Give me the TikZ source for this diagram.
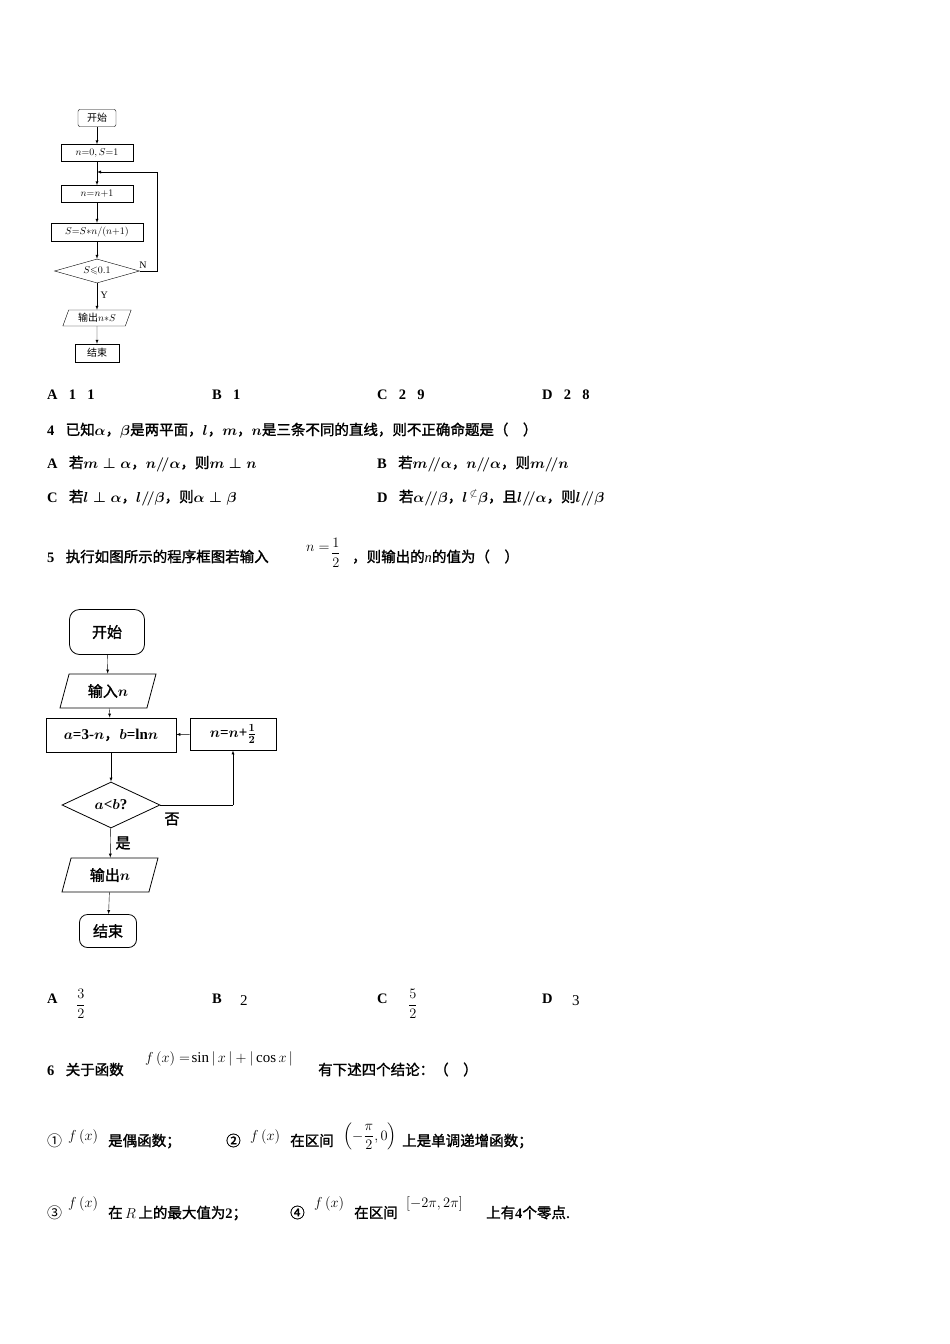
\documentclass[tikz,border=0pt]{standalone}
\usepackage{amsmath,amssymb}
\usepackage{fontspec}
\setmainfont{Liberation Serif}
\newfontfamily\zh{Noto Sans CJK SC}[AutoFakeBold=1.5]
\usetikzlibrary{shapes.geometric}
\usetikzlibrary{positioning}
\usetikzlibrary{calc}
\tikzset{
  small/.style={font=\fontsize{10}{11}\selectfont},
  big/.style={font=\fontsize{15}{17}\selectfont\bfseries},
  line/.style={font=\fontsize{14.5}{17}\selectfont\bfseries, anchor=base west, inner sep=0pt},
  plainmath/.style={font=\fontsize{15}{17}\selectfont, anchor=base west, inner sep=0pt}
}
\newcommand{\zb}[1]{{\zh\bfseries #1}}

\begin{document}
\begin{tikzpicture}[x=1pt, y=-1pt, >=latex]
\useasboundingbox[fill=white] (0,0) rectangle (950,1344);

% first flowchart
\begin{scope}[small, every node/.style={draw, inner sep=1pt}]
\node[rounded corners=2pt, minimum width=38, minimum height=17] (s1) at (97,118) {\zh 开始};
\node[minimum width=72, minimum height=17] (init1) at (97,153) {$n{=}0,S{=}1$};
\node[minimum width=72, minimum height=17] (inc1) at (97,194) {$n{=}n{+}1$};
\node[minimum width=92, minimum height=18] (upd1) at (97,232) {$S{=}S{*}n/(n{+}1)$};
\node[diamond, aspect=3.8, inner sep=0pt, minimum width=85, minimum height=24] (cond1) at (97,271) {$S{\leqslant}0.1$};
\node[trapezium, trapezium left angle=70, trapezium right angle=110, minimum width=66, minimum height=16, inner sep=1pt] (out1) at (97,318) {{\zh 输出}$n{*}S$};
\node[minimum width=44, minimum height=18] (e1) at (97,353) {\zh 结束};
\end{scope}
\coordinate (j1) at (97,172);
\coordinate (r1) at (157,172);
\coordinate (r2) at (157,271);
\draw[->] (s1) -- (init1);
\draw[->] (init1) -- (inc1);
\draw[->] (inc1) -- (upd1);
\draw[->] (upd1) -- (cond1);
\draw[->] (cond1) -- (out1) node[pos=0.45, right=0pt, small] {Y};
\draw[->] (out1) -- (e1);
\draw (cond1.east) -- (r2) -- (r1);
\draw[->] (r1) -- (j1);
\node[small] at (143,265) {N};

% answers 3
\node[line] at (47,399) {A．1．1};
\node[line] at (212,399) {B．1};
\node[line] at (377,399) {C．2．9};
\node[line] at (542,399) {D．2．8};

% question 4
\node[line] at (47,435) {4．\zb{已知}$\boldsymbol{\alpha}$\zb{，}$\boldsymbol{\beta}$\zb{是两平面，}$\boldsymbol{l}$\zb{，}$\boldsymbol{m}$\zb{，}$\boldsymbol{n}$\zb{是三条不同的直线，则不正确命题是（\quad）}};
\node[line] at (47,468) {A．\zb{若}$\boldsymbol{m\perp\alpha}$\zb{，}$\boldsymbol{n/\!/\alpha}$\zb{，则}$\boldsymbol{m\perp n}$};
\node[line] at (377,468) {B．\zb{若}$\boldsymbol{m/\!/\alpha}$\zb{，}$\boldsymbol{n/\!/\alpha}$\zb{，则}$\boldsymbol{m/\!/n}$};
\node[line] at (47,502) {C．\zb{若}$\boldsymbol{l\perp\alpha}$\zb{，}$\boldsymbol{l/\!/\beta}$\zb{，则}$\boldsymbol{\alpha\perp\beta}$};
\node[line] at (377,502) {D．\zb{若}$\boldsymbol{\alpha/\!/\beta}$\zb{，}$\boldsymbol{l}\,^{\not\subset}\boldsymbol{\beta}$\zb{，且}$\boldsymbol{l/\!/\alpha}$\zb{，则}$\boldsymbol{l/\!/\beta}$};

% question 5
\node[line] at (47,562) {5．\zb{执行如图所示的程序框图若输入}};
\node[plainmath] at (306,551) {$n=\!\raisebox{-0.9ex}{$\displaystyle\frac{1}{2}$}$};
\node[line] at (352,562) {\zb{，则输出的}$\mathit{n}$\zb{的值为（\quad）}};

% second flowchart
\begin{scope}[big, every node/.style={draw, thick}]
\node[rounded corners=10pt, minimum width=75, minimum height=45] (s2) at (107,632) {\zh 开始};
\node[trapezium, trapezium left angle=75, trapezium right angle=105, minimum width=66, minimum height=34] (in2) at (108,691) {{\zh 输入}$\boldsymbol{n}$};
\node[minimum width=130, minimum height=34] (calc2) at (111,735) {$\boldsymbol{a}$=3-$\boldsymbol{n}${\zh ，}$\boldsymbol{b}$=ln$\boldsymbol{n}$};
\node[minimum width=86, minimum height=32] (step2) at (233,734) {$\boldsymbol{n}$=$\boldsymbol{n}$+$\boldsymbol{\frac12}$};
\node[diamond, aspect=2.1, inner sep=1pt, minimum width=98, minimum height=46] (cond2) at (111,805) {$\boldsymbol{a}$<$\boldsymbol{b}$?};
\node[trapezium, trapezium left angle=75, trapezium right angle=105, minimum width=78, minimum height=34] (out2) at (110,875) {{\zh 输出}$\boldsymbol{n}$};
\node[rounded corners=8pt, minimum width=57, minimum height=33] (e2) at (108,931) {\zh 结束};
\end{scope}
\coordinate (c2) at (233,805);
\draw[->] (s2) -- (in2);
\draw[->] (in2) -- (calc2);
\draw[->] (calc2) -- (cond2);
\draw[->] (cond2) -- (out2);
\draw[->] (out2) -- (e2);
\draw (cond2.east) -- (c2);
\draw[->] (c2) -- (step2);
\draw[->] (step2) -- (calc2);
\node[big] at (172,819) {\zh 否};
\node[big] at (123,843) {\zh 是};

% answers 5
\node[line] at (47,1003) {A．};
\node[plainmath] at (76,1003) {$\raisebox{-0.8ex}{$\displaystyle\frac{3}{2}$}$};
\node[line] at (212,1003) {B．};
\node[plainmath] at (240,1005) {2};
\node[line] at (377,1003) {C．};
\node[plainmath] at (408,1003) {$\raisebox{-0.8ex}{$\displaystyle\frac{5}{2}$}$};
\node[line] at (542,1003) {D．};
\node[plainmath] at (572,1005) {3};

% question 6
\node[line] at (47,1075) {6．\zb{关于函数}};
\node[plainmath] at (145,1062) {$f\,(x)=\!\sin|\,x\,|+|\cos x\,|$};
\node[line] at (318,1075) {\zb{有下述四个结论：（\quad）}};

\node[plainmath] at (47,1146) {\zh ①};
\node[plainmath] at (68,1140) {$f\,(x)$};
\node[line] at (108,1146) {\zb{是偶函数；}};
\node[line] at (226,1146) {\zb{②}};
\node[plainmath] at (250,1140) {$f\,(x)$};
\node[line] at (290,1146) {\zb{在区间}};
\node[plainmath] at (343,1140) {$\left(-\dfrac{\pi}{2},0\right)$};
\node[line] at (402,1146) {\zb{上是单调递增函数；}};

\node[plainmath] at (47,1218) {\zh ③};
\node[plainmath] at (68,1207) {$f\,(x)$};
\node[line] at (108,1218) {\zb{在}\,\textmd{$R$}\,\zb{上的最大值为}2\zb{；}};
\node[line] at (290,1218) {\zb{④}};
\node[plainmath] at (314,1207) {$f\,(x)$};
\node[line] at (354,1218) {\zb{在区间}};
\node[plainmath] at (406,1207) {$\left[-2\pi,2\pi\right]$};
\node[line] at (486,1218) {\zb{上有}4\zb{个零点.}};
\end{tikzpicture}
\end{document}
